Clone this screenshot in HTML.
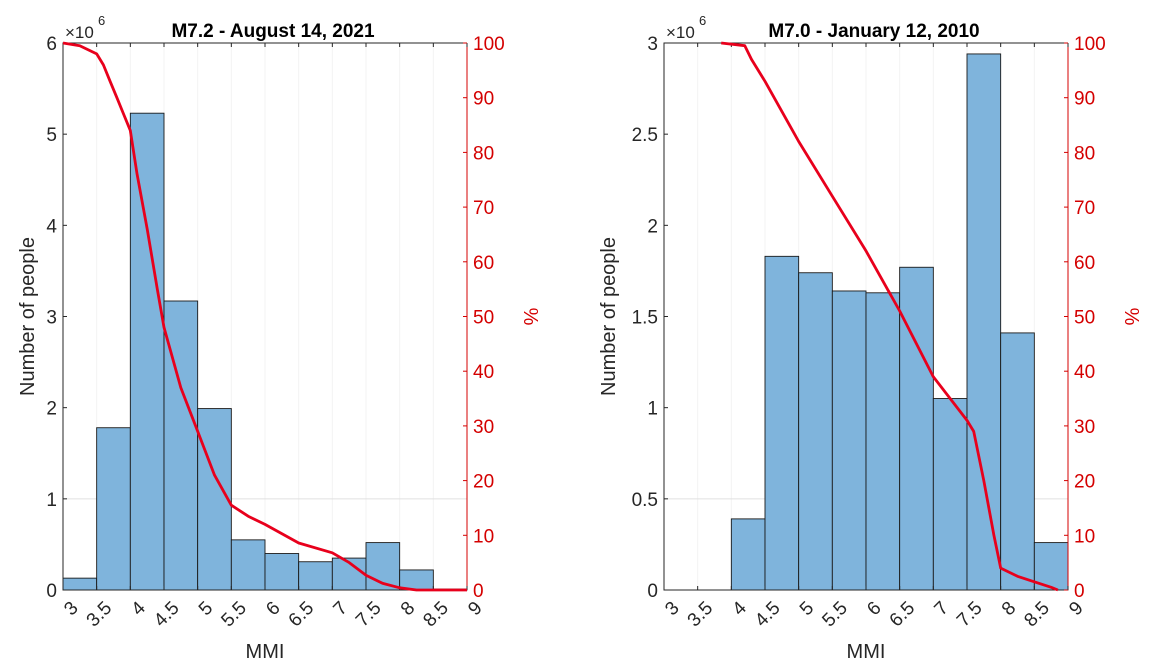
<!DOCTYPE html>
<html><head><meta charset="utf-8">
<style>
html,body{margin:0;padding:0;background:#fff;}
svg{display:block;font-family:"Liberation Sans",Arial,sans-serif;}
</style></head>
<body>
<svg id="fig" width="1153" height="663" viewBox="0 0 1153 663" xmlns="http://www.w3.org/2000/svg"></svg>
<script>
const binEdges = [3,3.5,4,4.5,5,5.5,6,6.5,7,7.5,8,8.5,9];
const xTickLabels = ["3","3.5","4","4.5","5","5.5","6","6.5","7","7.5","8","8.5","9"];
const countsA = [0.13,1.78,5.23,3.17,1.99,0.55,0.40,0.31,0.35,0.52,0.22,0.01];
const countsB = [0,0,0.39,1.83,1.74,1.64,1.63,1.77,1.05,2.94,1.41,0.26];
const curveAx = [3,3.25,3.5,3.6,3.7,3.8,3.9,4,4.1,4.25,4.4,4.5,4.75,5,5.25,5.5,5.75,6,6.5,7,7.25,7.5,7.75,8,8.25,9];
const curveAy = [100,99.5,98,96,93,90,87,84,76,66,55,48,37,29,21,15.5,13.5,12,8.6,6.8,5,2.7,1.2,0.4,0,0];
const curveBx = [3.85,4.2,4.3,4.5,5,5.5,6,6.5,7,7.5,7.6,7.75,7.9,8,8.25,8.5,8.75,8.85];
const curveBy = [100,99.5,97,93,82,72,62,51,39,31,29,20,10,4,2.5,1.5,0.5,0];
const yTicksA = [0,1,2,3,4,5,6];
const yTicksB = [0,0.5,1,1.5,2,2.5,3];
const pctTicks = [0,10,20,30,40,50,60,70,80,90,100];

const NS="http://www.w3.org/2000/svg";
const svg=document.getElementById('fig');
function mk(tag,attrs,parent,text){const e=document.createElementNS(NS,tag);for(const k in attrs)e.setAttribute(k,attrs[k]);if(text!==undefined)e.textContent=text;(parent||svg).appendChild(e);return e;}

function panel(cfg){
  const L=cfg.left,R=cfg.left+404,T=43,B=590;
  const g=mk('g',{});
  
  
  const xs=v=>L+(v-3)/6*(R-L);
  const ys=v=>B-v/cfg.ymax*(B-T);
  const ps=v=>B-v/100*(B-T);
  binEdges.forEach(v=>{const l=mk('line',{x1:xs(v),x2:xs(v),y1:T,y2:B,stroke:'#f3f3f3','stroke-width':1},g);});
  const hl=mk('line',{x1:L,x2:R,y1:ys(cfg.yt[1]),y2:ys(cfg.yt[1]),stroke:'#e0e0e0','stroke-width':1},g);
  
  cfg.counts.forEach((c,i)=>{
    if(c<=0)return;
    const r=mk('rect',{x:xs(binEdges[i]),y:ys(c),width:xs(binEdges[i+1])-xs(binEdges[i]),height:B-ys(c),fill:'#7fb4dc',stroke:'#1a1a1a','stroke-width':0.9},g);
    
    
  });
  const ax=mk('path',{d:`M${R} ${T}H${L}V${B}H${R}`,fill:'none',stroke:'#262626','stroke-width':1},g);
  
  const rax=mk('line',{x1:R,x2:R,y1:T,y2:B,stroke:'#d40000','stroke-width':1},g);
  
  binEdges.forEach((v,i)=>{
    mk('line',{x1:xs(v),x2:xs(v),y1:B,y2:B-4,stroke:'#262626'},g);
    mk('line',{x1:xs(v),x2:xs(v),y1:T,y2:T+4,stroke:'#262626'},g);
    const t=mk('text',{x:xs(v)+7,y:B+10,'font-size':19,'text-anchor':'end',transform:`rotate(-45 ${xs(v)+7} ${B+10})`,'dominant-baseline':'hanging',fill:'#262626'},g,xTickLabels[i]);
    
  });
  cfg.yt.forEach((v,i)=>{
    mk('line',{x1:L,x2:L+4,y1:ys(v),y2:ys(v),stroke:'#262626'},g);
    const t=mk('text',{x:L-6,y:ys(v)+7,'font-size':19,'text-anchor':'end',fill:'#262626'},g,String(v));
    
  });
  pctTicks.forEach(v=>{
    mk('line',{x1:R,x2:R-4,y1:ps(v),y2:ps(v),stroke:'#d40000'},g);
    const t=mk('text',{x:R+6,y:ps(v)+7,'font-size':19,fill:'#d40000'},g,String(v));
    
  });
  const d=cfg.cx.map((x,i)=>(i?'L':'M')+xs(x).toFixed(1)+' '+ps(cfg.cy[i]).toFixed(1)).join('');
  const p=mk('path',{d:d,fill:'none',stroke:'#e8001c','stroke-width':2.8,'stroke-linejoin':'round'},g);
  
  let t=mk('text',{x:(L+R)/2+8,y:37,'font-size':19,'font-weight':'bold','text-anchor':'middle',fill:'#000'},g,cfg.title);
  
  t=mk('text',{x:L+2,y:38,'font-size':17,fill:'#262626'},g,'×10');
  
  mk('text',{x:L+35,y:25,'font-size':13,fill:'#262626'},g,'6');
  t=mk('text',{x:(L+R)/2,y:658,'font-size':20,'text-anchor':'middle',fill:'#262626'},g,'MMI');
  
  t=mk('text',{x:0,y:0,'font-size':20,'text-anchor':'middle',fill:'#262626',transform:`translate(${cfg.ylabX} ${(T+B)/2}) rotate(-90)`},g,'Number of people');
  
  t=mk('text',{x:0,y:0,'font-size':20,'text-anchor':'middle',fill:'#d40000',transform:`translate(${R+57} ${(T+B)/2}) rotate(90)`},g,'%');
  
}
panel({name:'chart-2021',left:63,ymax:6,yt:yTicksA,counts:countsA,cx:curveAx,cy:curveAy,title:'M7.2 - August 14, 2021',ylabX:34});
panel({name:'chart-2010',left:664,ymax:3,yt:yTicksB,counts:countsB,cx:curveBx,cy:curveBy,title:'M7.0 - January 12, 2010',ylabX:615});
</script>
</body></html>
